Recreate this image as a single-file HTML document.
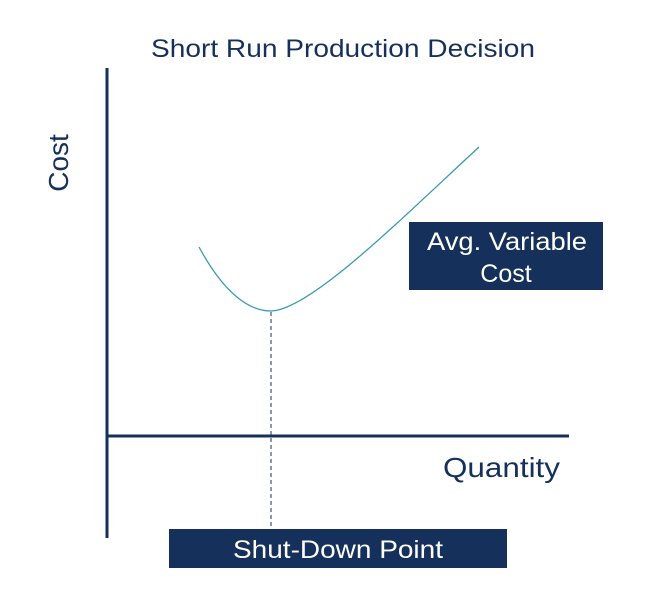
<!DOCTYPE html>
<html><head><style>
body{margin:0;background:#fff;}
svg{display:block;font-family:"Liberation Sans",sans-serif;}
</style></head><body>
<svg width="669" height="604" viewBox="0 0 669 604" xmlns="http://www.w3.org/2000/svg">
<rect width="669" height="604" fill="#fff"/>
<text x="151" y="57" font-size="25" fill="#15305a" textLength="384" lengthAdjust="spacingAndGlyphs">Short Run Production Decision</text>
<text transform="translate(68,163) rotate(-90)" text-anchor="middle" font-size="28" fill="#15305a">Cost</text>
<line x1="107" y1="68" x2="107" y2="538" stroke="#15305a" stroke-width="3"/>
<line x1="106" y1="436" x2="569" y2="436" stroke="#15305a" stroke-width="3"/>
<line x1="271" y1="312" x2="271" y2="529" stroke="#15305a" stroke-width="1" stroke-dasharray="4,3"/>
<path d="M199,247 C225,295 250,311 271,311 C310,310 400,220 479,147" fill="none" stroke="#3a9ab0" stroke-width="1.3"/>
<rect x="409" y="222" width="194" height="68" fill="#15305a"/>
<text x="427" y="250" font-size="25" fill="#fff" textLength="160" lengthAdjust="spacingAndGlyphs">Avg. Variable</text>
<text x="506" y="282" text-anchor="middle" font-size="25" fill="#fff">Cost</text>
<text x="443" y="477" font-size="28" fill="#15305a" textLength="117" lengthAdjust="spacingAndGlyphs">Quantity</text>
<rect x="169" y="529" width="338" height="39" fill="#15305a"/>
<text x="233" y="558" font-size="25" fill="#fff" textLength="210" lengthAdjust="spacingAndGlyphs">Shut-Down Point</text>
</svg>
</body></html>
